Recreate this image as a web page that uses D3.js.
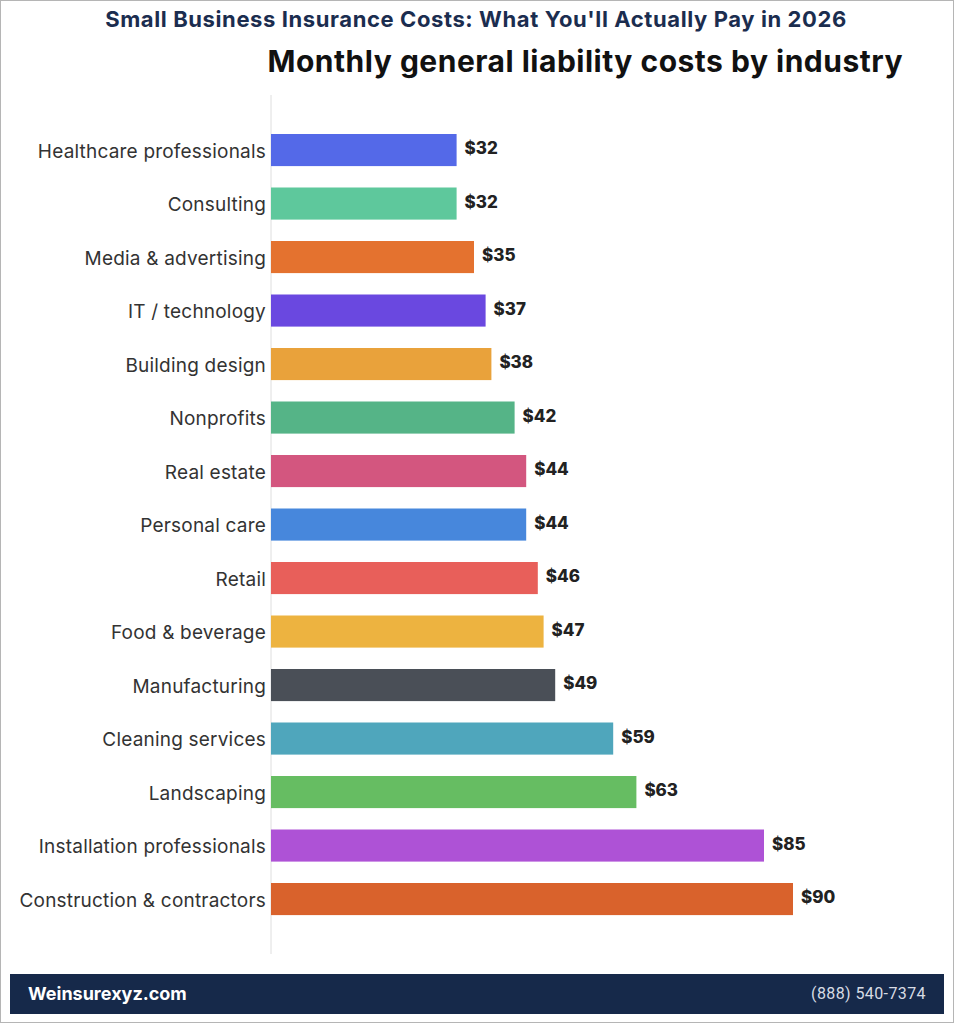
<!DOCTYPE html>
<html>
<head>
<meta charset="utf-8">
<script src="https://cdn.jsdelivr.net/npm/d3@7"></script>
<style>
    body { margin: 0; background: #fff; }
    svg { display: block; }
</style>
</head>
<body>
<script>
//chart data
var industries = ["Healthcare professionals", "Consulting", "Media & advertising", "IT / technology",
    "Building design", "Nonprofits", "Real estate", "Personal care", "Retail", "Food & beverage",
    "Manufacturing", "Cleaning services", "Landscaping", "Installation professionals", "Construction & contractors"];
var monthlyCost = [32, 32, 35, 37, 38, 42, 44, 44, 46, 47, 49, 59, 63, 85, 90];
var barColors = ["#5469e8", "#5ec89c", "#e4722f", "#6a48e0", "#e9a23b", "#55b487", "#d3567f", "#4787dc",
    "#e85f5a", "#edb340", "#4a4f57", "#4fa6bc", "#66bd62", "#ae52d6", "#d9622c"];

var title = "Small Business Insurance Costs: What You'll Actually Pay in 2026",
    subtitle = "Monthly general liability costs by industry",
    site = "Weinsurexyz.com",
    phone = "(888) 540-7374";

var width = 954,
    height = 1024;

var svg = d3.select("body")
    .append("svg")
    .attr("width", width)
    .attr("height", height);

//frame border
svg.append("rect")
    .attr("x", 0.5).attr("y", 0.5)
    .attr("width", width - 1).attr("height", height - 2)
    .attr("fill", "none")
    .attr("stroke", "#b5b5b5");

//titles
svg.append("text")
    .attr("x", 476).attr("y", 27)
    .attr("text-anchor", "middle")
    .style("font-family", "Inter, sans-serif")
    .style("font-weight", 700)
    .style("font-size", "22px")
    .style("letter-spacing", "0.6px")
    .attr("fill", "#1b2d4f")
    .text(title);

svg.append("text")
    .attr("x", 903).attr("y", 72)
    .attr("text-anchor", "end")
    .style("font-family", "Inter, sans-serif")
    .style("font-weight", 700)
    .style("font-size", "30px")
    .style("letter-spacing", "0.5px")
    .attr("fill", "#111")
    .text(subtitle);

//scales
var x = d3.scaleLinear()
    .domain([0, 90])
    .range([271, 793]);

var y = d3.scaleBand()
    .domain(industries)
    .range([112.6, 936.5])
    .padding(0.4);

//vertical axis line
svg.append("line")
    .attr("x1", 271).attr("x2", 271)
    .attr("y1", 95).attr("y2", 954)
    .attr("stroke", "#dedede");

var rows = svg.selectAll(".row")
    .data(industries)
    .enter()
    .append("g")
    .attr("class", "row");

rows.append("rect")
    .attr("x", x(0))
    .attr("y", function(d){ return y(d); })
    .attr("width", function(d, i){ return x(monthlyCost[i]) - x(0); })
    .attr("height", y.bandwidth())
    .attr("fill", function(d, i){ return barColors[i]; });

rows.append("text")
    .attr("x", x(0) - 5)
    .attr("y", function(d){ return y(d) + y.bandwidth() / 2 + 1; })
    .attr("dy", "0.35em")
    .attr("text-anchor", "end")
    .style("font-family", "Inter, sans-serif")
    .style("font-size", "19px")
    .style("letter-spacing", "0.2px")
    .attr("fill", "#333")
    .text(function(d){ return d; });

rows.append("text")
    .attr("x", function(d, i){ return x(monthlyCost[i]) + 8; })
    .attr("y", function(d){ return y(d) + y.bandwidth() / 2 - 2; })
    .attr("dy", "0.35em")
    .style("font-family", "Inter, sans-serif")
    .style("font-weight", 800)
    .style("font-size", "17px")
    .attr("fill", "#222")
    .text(function(d, i){ return "$" + monthlyCost[i]; });

//footer band
svg.append("rect")
    .attr("x", 10).attr("y", 974)
    .attr("width", 934).attr("height", 40)
    .attr("fill", "#16294a");

svg.append("text")
    .attr("x", 28).attr("y", 1000)
    .style("font-family", "Inter, sans-serif")
    .style("font-weight", 700)
    .style("font-size", "18px")
    .attr("fill", "#fff")
    .text(site);

svg.append("text")
    .attr("x", 926).attr("y", 999)
    .attr("text-anchor", "end")
    .style("font-family", "Roboto, sans-serif")
    .style("font-size", "16px")
    .style("letter-spacing", "0.4px")
    .attr("fill", "#d8dce4")
    .text(phone);
</script>
</body>
</html>
